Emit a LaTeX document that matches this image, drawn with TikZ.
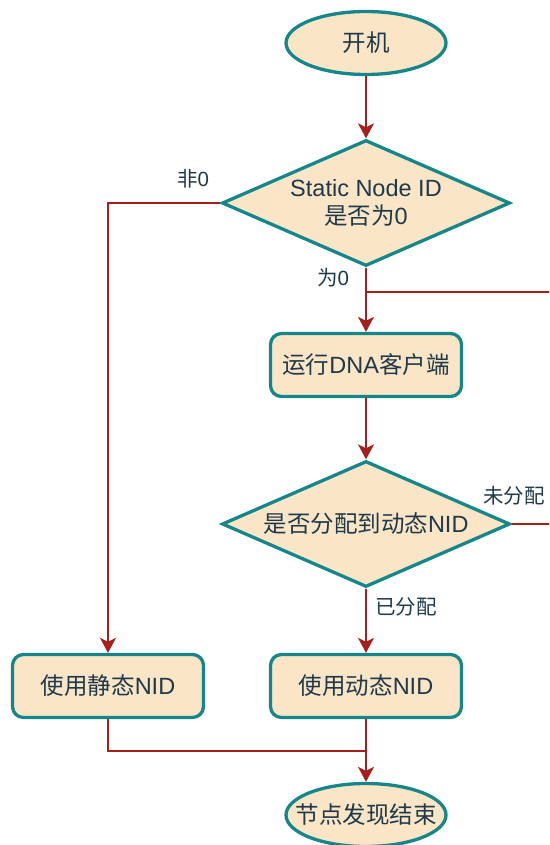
\documentclass[tikz,border=0pt]{standalone}
\usepackage{fontspec}
\setmainfont{Liberation Sans}
\newfontfamily\cjk{Noto Sans CJK SC}
\usetikzlibrary{shapes.geometric,arrows.meta}
\definecolor{fillc}{HTML}{FAE5C7}
\definecolor{edgec}{HTML}{15878A}
\definecolor{linec}{HTML}{A51F1C}
\definecolor{txtc}{HTML}{1E3A4A}
\begin{document}
\begin{tikzpicture}[x=1pt,y=-1pt,
 base/.style={fill=fillc,draw=edgec,line width=3.3pt,inner sep=0pt},
 txt/.style={text=txtc,font=\fontsize{23.5}{28}\selectfont,align=center,inner sep=0pt},
 term/.style={base,ellipse,minimum width=160pt,minimum height=63pt},
 proc/.style={base,rectangle,rounded corners=11pt,minimum width=191pt,minimum height=63pt},
 dec/.style={base,diamond,minimum width=288pt,minimum height=126pt},
 conn/.style={draw=linec,line width=1.8pt},
 arr/.style={conn,-{Stealth[length=15pt,width=16pt,inset=4pt]}},
 lbl/.style={text=txtc,font=\fontsize{20.5}{24}\selectfont,inner sep=0pt}]
\useasboundingbox (0,0) rectangle (549,845);
\node[term] (start) at (366,43) {};
\node[dec] (d1) at (366,203) {};
\node[proc] (run) at (366,365) {};
\node[dec] (d2) at (366,524) {};
\node[proc] (stat) at (108,686) {};
\node[proc] (dyn) at (366,686) {};
\node[term] (end) at (366,815) {};
\node[txt] (tstart) at (start) {\cjk 开机};
\node[txt] (td1) at (d1) {Static Node ID\\{\cjk 是否为}0};
\node[txt] (trun) at (run) {{\cjk 运行}DNA{\cjk 客户端}};
\node[txt] (td2) at (d2) {{\cjk 是否分配到动态}NID};
\node[txt] (tstat) at (stat) {{\cjk 使用静态}NID};
\node[txt] (tdyn) at (dyn) {{\cjk 使用动态}NID};
\node[txt] (tend) at (end) {\cjk 节点发现结束};
\coordinate (j1) at (366,292);
\coordinate (r1) at (549,292);
\coordinate (r2) at (549,524);
\coordinate (j2) at (366,751);
\draw[arr] (start) -- (d1);
\draw[arr] (d1.west) -| (stat.north);
\draw[arr] (d1) -- (run);
\draw[conn] (r1) -- (j1);
\draw[arr] (run) -- (d2);
\draw[conn] (d2.east) -- (r2);
\draw[arr] (d2) -- (dyn);
\draw[conn] (stat.south) |- (j2);
\draw[arr] (dyn) -- (end);
\node[lbl] (l1) at (193,179) {{\cjk 非}0};
\node[lbl] (l2) at (333,278) {{\cjk 为}0};
\node[lbl] (l3) at (514,496) {\cjk 未分配};
\node[lbl] (l4) at (406,607) {\cjk 已分配};
\end{tikzpicture}
\end{document}
